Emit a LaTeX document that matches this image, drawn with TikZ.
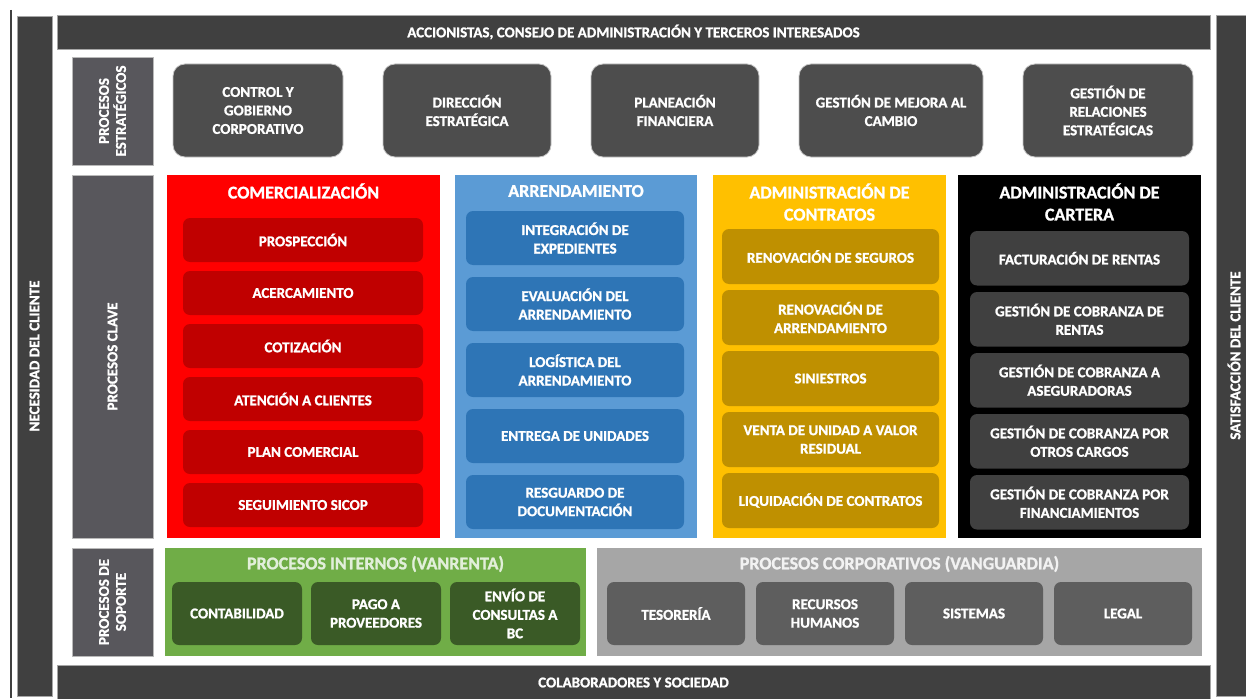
\documentclass[tikz,border=0pt]{standalone}
\usepackage{fontspec}
\setmainfont{Carlito}[BoldFeatures={FakeBold=1.2}]
\usepackage{tikz}
\usetikzlibrary{positioning}

\definecolor{barGray}{HTML}{404040}
\definecolor{lblGray}{HTML}{58575C}
\definecolor{stratGray}{HTML}{4D4D4D}
\definecolor{comRed}{HTML}{FF0000}
\definecolor{comDark}{HTML}{C00000}
\definecolor{arrBlue}{HTML}{5B9BD5}
\definecolor{arrDark}{HTML}{2E75B6}
\definecolor{conYellow}{HTML}{FFC000}
\definecolor{conDark}{HTML}{BF9000}
\definecolor{carDark}{HTML}{404040}
\definecolor{intGreen}{HTML}{70AD47}
\definecolor{intDark}{HTML}{3A5A26}
\definecolor{intText}{HTML}{E2EFDA}
\definecolor{corGray}{HTML}{A6A6A6}
\definecolor{corDark}{HTML}{5E5E5E}

\newcommand{\boxfont}{\fontsize{15}{18.5}\selectfont\bfseries}
\newcommand{\barfont}{\fontsize{15}{17}\selectfont\bfseries}
\newcommand{\titlefont}{\fontsize{18}{22}\selectfont\bfseries}

\begin{document}
\begin{tikzpicture}[x=1pt,y=-1pt,
  every node/.style={outer sep=0pt,inner sep=0pt,text=white,align=center},
  bar/.style={fill=barGray,draw=gray!70,line width=0.8pt,font=\barfont},
  lbl box/.style={fill=lblGray,draw=gray!55,line width=0.8pt,font=\barfont,rotate=90},
  strat box/.style={fill=stratGray,draw=gray!45,line width=0.8pt,rounded corners=12pt,
    minimum height=93pt,font=\boxfont},
  column/.style={anchor=north west,minimum height=363pt},
  title/.style={font=\titlefont},
  sub box/.style={rounded corners=7pt,font=\boxfont},
  com box/.style={sub box,fill=comDark,minimum width=240pt,minimum height=44pt},
  arr box/.style={sub box,fill=arrDark,minimum width=218pt,minimum height=54pt},
  con box/.style={sub box,fill=conDark,minimum width=217pt,minimum height=55pt},
  car box/.style={sub box,fill=carDark,minimum width=219pt,minimum height=54.5pt},
  int box/.style={sub box,fill=intDark,minimum width=130pt,minimum height=63pt},
  cor box/.style={sub box,fill=corDark,minimum width=138pt,minimum height=63pt}]

  \useasboundingbox (0,0) rectangle (1246,698);
  \fill[white] (0,0) rectangle (1246,698);

  % outer frame
  \draw[barGray,line width=2.5pt] (11,10) -- (11,698);
  \node[bar,rotate=90,minimum width=680pt,minimum height=35pt] (necesidad) at (34.5,356) {NECESIDAD DEL CLIENTE};
  \node[bar,rotate=90,minimum width=681pt,minimum height=36pt] (satisfaccion) at (1234,355.5) {SATISFACCIÓN DEL CLIENTE};
  \node[bar,anchor=north west,minimum width=1153pt,minimum height=34pt] (accionistas) at (57,15) {ACCIONISTAS, CONSEJO DE ADMINISTRACIÓN Y TERCEROS INTERESADOS};
  \node[bar,anchor=north west,minimum width=1153pt,minimum height=35pt] (colaboradores) at (57,665) {COLABORADORES Y SOCIEDAD};

  % row labels
  \node[lbl box,minimum width=108pt,minimum height=81pt] (estrategicos) at (112.5,111) {PROCESOS\\ESTRATÉGICOS};
  \node[lbl box,minimum width=363pt,minimum height=81pt] (clave) at (112.5,356.5) {PROCESOS CLAVE};
  \node[lbl box,minimum width=108pt,minimum height=81pt] (soporte) at (112.5,602) {PROCESOS DE\\SOPORTE};

  % strategic processes
  \node[strat box,anchor=north west,minimum width=170pt] (control) at (173,64) {CONTROL Y\\GOBIERNO\\CORPORATIVO};
  \node[strat box,minimum width=168pt,right=40pt of control] (direccion) {DIRECCIÓN\\ESTRATÉGICA};
  \node[strat box,minimum width=168pt,right=40pt of direccion] (planeacion) {PLANEACIÓN\\FINANCIERA};
  \node[strat box,minimum width=184pt,right=40pt of planeacion] (mejora) {GESTIÓN DE MEJORA AL\\CAMBIO};
  \node[strat box,minimum width=170pt,right=40pt of mejora] (relaciones) {GESTIÓN DE\\RELACIONES\\ESTRATÉGICAS};

  % key processes
  \node[column,fill=comRed,minimum width=273pt] (comercial) at (167,175) {};
  \node[title] (comercial-t) at (303.5,191) {COMERCIALIZACIÓN};
  \node[com box,anchor=north west] (prospeccion) at (183,218) {PROSPECCIÓN};
  \node[com box,below=9pt of prospeccion] (acercamiento) {ACERCAMIENTO};
  \node[com box,below=9pt of acercamiento] (cotizacion) {COTIZACIÓN};
  \node[com box,below=9pt of cotizacion] (atencion) {ATENCIÓN A CLIENTES};
  \node[com box,below=9pt of atencion] (plan) {PLAN COMERCIAL};
  \node[com box,below=9pt of plan] (seguimiento) {SEGUIMIENTO SICOP};

  \node[column,fill=arrBlue,minimum width=242pt] (arrendamiento) at (455,175) {};
  \node[title] (arrendamiento-t) at (576,191) {ARRENDAMIENTO};
  \node[arr box,anchor=north west] (integracion) at (466,211) {INTEGRACIÓN DE\\EXPEDIENTES};
  \node[arr box,below=12pt of integracion] (evaluacion) {EVALUACIÓN DEL\\ARRENDAMIENTO};
  \node[arr box,below=12pt of evaluacion] (logistica) {LOGÍSTICA DEL\\ARRENDAMIENTO};
  \node[arr box,below=12pt of logistica] (entrega) {ENTREGA DE UNIDADES};
  \node[arr box,below=12pt of entrega] (resguardo) {RESGUARDO DE\\DOCUMENTACIÓN};

  \node[column,fill=conYellow,minimum width=233pt] (contratos) at (713,175) {};
  \node[title] (contratos-t) at (829.5,202) {ADMINISTRACIÓN DE\\CONTRATOS};
  \node[con box,anchor=north west] (seguros) at (722,229) {RENOVACIÓN DE SEGUROS};
  \node[con box,below=6pt of seguros] (renovacion) {RENOVACIÓN DE\\ARRENDAMIENTO};
  \node[con box,below=6pt of renovacion] (siniestros) {SINIESTROS};
  \node[con box,below=6pt of siniestros] (venta) {VENTA DE UNIDAD A VALOR\\RESIDUAL};
  \node[con box,below=6pt of venta] (liquidacion) {LIQUIDACIÓN DE CONTRATOS};

  \node[column,fill=black,minimum width=243pt] (cartera) at (958,175) {};
  \node[title] (cartera-t) at (1079.5,202) {ADMINISTRACIÓN DE\\CARTERA};
  \node[car box,anchor=north west] (facturacion) at (970,231) {FACTURACIÓN DE RENTAS};
  \node[car box,below=6.5pt of facturacion] (cob-rentas) {GESTIÓN DE COBRANZA DE\\RENTAS};
  \node[car box,below=6.5pt of cob-rentas] (cob-aseg) {GESTIÓN DE COBRANZA A\\ASEGURADORAS};
  \node[car box,below=6.5pt of cob-aseg] (cob-otros) {GESTIÓN DE COBRANZA POR\\OTROS CARGOS};
  \node[car box,below=6.5pt of cob-otros] (cob-fin) {GESTIÓN DE COBRANZA POR\\FINANCIAMIENTOS};

  % support processes
  \node[anchor=north west,fill=intGreen,minimum width=421pt,minimum height=108pt] (internos) at (165,548) {};
  \node[title,text=intText] (internos-t) at (375.5,564) {PROCESOS INTERNOS (VANRENTA)};
  \node[int box,anchor=north west] (contabilidad) at (172,582) {CONTABILIDAD};
  \node[int box,right=9pt of contabilidad] (pago) {PAGO A\\PROVEEDORES};
  \node[int box,right=9pt of pago] (envio) {ENVÍO DE\\CONSULTAS A\\BC};

  \node[anchor=north west,fill=corGray,minimum width=605pt,minimum height=108pt] (corporativos) at (597,548) {};
  \node[title,text=white!95!black] (corporativos-t) at (899.5,564) {PROCESOS CORPORATIVOS (VANGUARDIA)};
  \node[cor box,anchor=north west] (tesoreria) at (607,582) {TESORERÍA};
  \node[cor box,right=11pt of tesoreria] (recursos) {RECURSOS\\HUMANOS};
  \node[cor box,right=11pt of recursos] (sistemas) {SISTEMAS};
  \node[cor box,right=11pt of sistemas] (legal) {LEGAL};
\end{tikzpicture}
\end{document}
